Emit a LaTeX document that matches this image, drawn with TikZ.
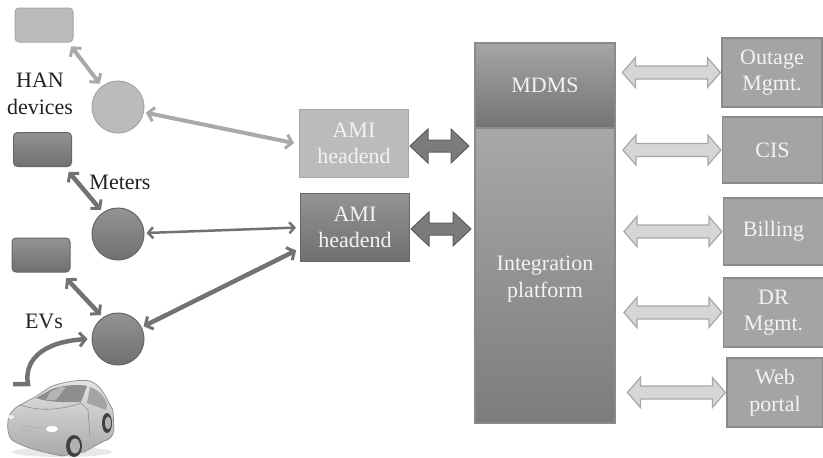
\documentclass[tikz,border=0pt]{standalone}
\usepackage{fontspec}
\setmainfont{Liberation Serif}
\usetikzlibrary{arrows.meta,calc}

\definecolor{lightfill}{HTML}{BBBBBD}
\definecolor{lightedge}{HTML}{A6A6A8}
\definecolor{lightline}{HTML}{A9A9AB}
\definecolor{darktop}{HTML}{939395}
\definecolor{darkbot}{HTML}{707072}
\definecolor{darkedge}{HTML}{666668}
\definecolor{darkline}{HTML}{727274}
\definecolor{mdmstop}{HTML}{A5A5A7}
\definecolor{mdmsbot}{HTML}{737375}
\definecolor{plattop}{HTML}{A8A8AA}
\definecolor{platbot}{HTML}{7C7C7E}
\definecolor{sysfill}{HTML}{A4A4A6}
\definecolor{sysedge}{HTML}{8A8A8C}
\definecolor{boxtext}{HTML}{F3F3F3}
\definecolor{labeltext}{HTML}{222222}
\definecolor{barrowfill}{HTML}{7B7B7D}
\definecolor{barrowedge}{HTML}{5E5E60}
\definecolor{larrowfill}{HTML}{D6D6D8}
\definecolor{larrowedge}{HTML}{A8A8AA}
\definecolor{carlight}{HTML}{E4E4E6}
\definecolor{carmid}{HTML}{A9A9AB}
\definecolor{caredge}{HTML}{8C8C8E}
\definecolor{winfill}{HTML}{8E8E90}

\tikzset{
  devbox/.style={rectangle, rounded corners=4pt, minimum width=58pt,
    minimum height=34pt, inner sep=0pt, line width=1pt},
  nodecirc/.style={circle, minimum size=52pt, inner sep=0pt, line width=1pt},
  lightshape/.style={fill=lightfill, draw=lightedge},
  darkshape/.style={top color=darktop, bottom color=darkbot, draw=darkedge},
  headend/.style={rectangle, minimum width=109pt, minimum height=68pt,
    align=center, text=boxtext, inner sep=0pt, line width=1pt},
  sysbox/.style={rectangle, fill=sysfill, draw=sysedge, line width=1.2pt,
    text=boxtext, align=center, minimum width=100pt, minimum height=68pt,
    inner sep=0pt},
  label/.style={text=labeltext, align=center, inner sep=0pt},
  barb/.style={-{Straight Barb[length=6pt,width=14pt,line width=3pt]}},
  dbarb/.style={{Straight Barb[length=6pt,width=14pt,line width=3pt]}-{Straight Barb[length=6pt,width=14pt,line width=3pt]}},
  lightlink/.style={draw=lightline, line width=4pt, dbarb},
  darklink/.style={draw=darkline, line width=4.5pt, dbarb},
  thinlink/.style={draw=darkline, line width=2.5pt,
    {Straight Barb[length=5pt,width=11pt,line width=2.5pt]}-{Straight Barb[length=5pt,width=11pt,line width=2.5pt]}},
  pics/blockarrow/.style n args={4}{code={
    \path[pic actions] (0,0) -- ({#2},{#3}) -- ({#2},{#4}) -- ({#1-#2},{#4})
      -- ({#1-#2},{#3}) -- ({#1},0) -- ({#1-#2},{-#3}) -- ({#1-#2},{-#4})
      -- ({#2},{-#4}) -- ({#2},{-#3}) -- cycle;
  }},
  darkblock/.style={fill=barrowfill, draw=barrowedge, line width=1pt},
  lightblock/.style={fill=larrowfill, draw=larrowedge, line width=1.2pt},
}

\begin{document}
\begin{tikzpicture}[x=1pt, y=-1pt, font=\fontsize{22}{26.5}\selectfont]
\useasboundingbox (0,0) rectangle (823,458);

% field devices
\node[devbox, lightshape] (hanbox) at (44,25) {};
\node[devbox, darkshape]  (meterbox) at (42.5,149.5) {};
\node[devbox, darkshape]  (evbox) at (41,255) {};

\node[nodecirc, lightshape] (hanc) at (118,107) {};
\node[nodecirc, darkshape]  (meterc) at (118,234) {};
\node[nodecirc, darkshape]  (evc) at (118,339) {};

\node[label] (hanlabel) at (40,94) {HAN\\devices};
\node[label] (meterlabel) at (120,182) {Meters};
\node[label] (evlabel) at (44,321) {EVs};

% headends
\node[headend, fill=lightfill, draw=lightedge] (ami1) at (354,143.5) {AMI\\headend};
\node[headend, top color=darktop, bottom color=darkbot, draw=darkedge] (ami2) at (355,227.5) {AMI\\headend};

% central systems
\node[rectangle, minimum width=140pt, minimum height=295pt, inner sep=0pt,
      top color=plattop, bottom color=platbot, draw=sysedge, line width=1.2pt]
      (plat) at (545,275.5) {};
\node[rectangle, minimum width=140pt, minimum height=85pt, inner sep=0pt,
      top color=mdmstop, bottom color=mdmsbot, draw=sysedge, line width=1.2pt,
      text=boxtext] (mdms) at (545,85.5) {MDMS};
\node[text=boxtext, align=center, inner sep=0pt] (platlabel) at (545,279) {Integration\\platform};

% enterprise applications
\node[sysbox, minimum height=69pt] (outage) at (772,72.5) {Outage\\Mgmt.};
\node[sysbox, minimum height=66pt] (cis) at (772.5,150) {CIS};
\node[sysbox, minimum height=67pt] (billing) at (773.5,231.5) {Billing};
\node[sysbox, minimum height=69pt] (dr) at (773.5,312.5) {DR\\Mgmt.};
\node[sysbox, minimum height=69pt, minimum width=96pt] (web) at (775,392.5) {Web\\portal};

% links between devices and access points
\draw[lightlink, shorten <=1pt, shorten >=3pt] ([shift={(-3,3)}]hanbox.south east) -- (hanc.128);
\draw[darklink, shorten <=1pt, shorten >=3pt] ([shift={(-4,4)}]meterbox.south east) -- (meterc.125);
\draw[darklink, shorten <=1pt, shorten >=3pt] ([shift={(-5,5)}]evbox.south east) -- (evc.125);

% links from access points to headends
\draw[lightlink, shorten <=2pt, shorten >=2pt] (hanc) -- ([xshift=-3pt]ami1.west);
\draw[thinlink, shorten <=2pt, shorten >=2pt] (meterc) -- ([xshift=-2pt]ami2.west);
\draw[darklink, shorten <=2pt, shorten >=2pt] (evc) -- ([shift={(-2pt,-22pt)}]ami2.west);

% headends to integration platform
\pic[darkblock] at ($(ami1.east)+(1,2.5)$) {blockarrow={59}{18}{17}{6}};
\pic[darkblock] at ($(ami2.east)+(1,1.5)$) {blockarrow={60}{18}{17}{6}};

% platform to enterprise applications
\foreach \app in {outage,cis,billing,dr,web}
  \pic[lightblock] at ($(\app.west)+(-99,0)$) {blockarrow={98}{13}{15}{6.5}};

% electric vehicle
\begin{scope}[line join=round]
  \fill[gray!18] (62,452) ellipse (50pt and 5pt);
  \shade[top color=carlight, bottom color=carmid, draw=caredge, line width=0.7pt]
    (8,421) .. controls (9,413) and (13,409) .. (20,405) -- (35,397)
    -- (50,387) .. controls (62,382) and (80,379) .. (90,381)
    .. controls (98,384) and (104,392) .. (108,401) -- (113,410)
    -- (114,430) .. controls (113,436) and (110,440) .. (104,441)
    -- (84,452) -- (62,456) .. controls (42,452) and (22,447) .. (12,440)
    .. controls (8,436) and (7,428) .. (8,421) -- cycle;
  \fill[winfill] (36,398) -- (52,389) .. controls (64,385) and (78,384) .. (87,386)
    -- (81,402) .. controls (66,402) and (50,403) .. (36,398) -- cycle;
  \fill[winfill!80] (90,387) .. controls (98,390) and (104,395) .. (107,404)
    -- (106,410) -- (87,403) -- cycle;
  \fill[white, opacity=0.35] (50,392) -- (60,387) -- (66,387) -- (56,400) -- (46,400) -- cycle;
  \draw[caredge, line width=0.6pt] (20,405) .. controls (35,410) and (55,412) .. (81,403);
  \draw[caredge, line width=0.6pt] (81,403) -- (88,410) -- (90,436);
  % grille and lights
  \fill[gray!55] (19,424) -- (44,428) -- (45,434) -- (21,431) -- cycle;
  \draw[gray!35, line width=0.5pt] (20,427) -- (44,431);
  \fill[white] (52,429) ellipse (6pt and 3pt);
  \fill[white!90!gray] (11,417) ellipse (3pt and 2pt);
  % wheels
  \fill[black!75] (74,446) ellipse (8pt and 11pt);
  \fill[gray!60] (75,446) ellipse (5pt and 7.5pt);
  \fill[black!75] (107,423) ellipse (5pt and 10pt);
  \fill[gray!60] (108,423) ellipse (3pt and 6.5pt);
  \coordinate (carhook) at (13,384);
\end{scope}

% charging connection from vehicle
\draw[draw=darkline, line width=4.5pt, barb, line cap=butt]
  (carhook) -- (28,384) .. controls (24,362) and (40,342) .. ([xshift=-4pt]evc.west);

\end{tikzpicture}
\end{document}
